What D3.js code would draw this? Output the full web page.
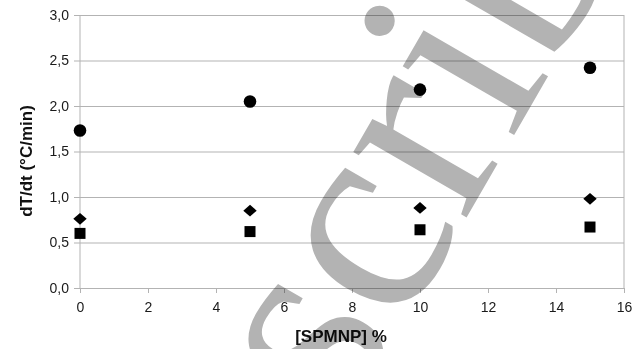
<!DOCTYPE html>
<html>
<head>
<meta charset="utf-8">
<script src="https://cdn.jsdelivr.net/npm/d3@7"></script>
<style>
  body { margin: 0; background: #fff; }
  svg { display: block; font-family: "Liberation Sans", Arial, sans-serif; }
</style>
</head>
<body>
<svg id="chart" width="641" height="349"></svg>
<script>
// values
const xValues = [0, 5, 10, 15];
const circleSeries = [1.73, 2.05, 2.18, 2.42];
const diamondSeries = [0.76, 0.85, 0.88, 0.98];
const squareSeries = [0.60, 0.62, 0.64, 0.67];
const xTicks = [0, 2, 4, 6, 8, 10, 12, 14, 16];
const yTicks = [0, 0.5, 1, 1.5, 2, 2.5, 3];

const width = 641, height = 349;
const margin = { top: 15, right: 17, bottom: 61, left: 80 };
const innerW = width - margin.left - margin.right;
const innerH = height - margin.top - margin.bottom;

const svg = d3.select("#chart");
const g = svg.append("g").attr("transform", `translate(${margin.left},${margin.top})`);

const x = d3.scaleLinear().domain([0, 16]).range([0, innerW]);
const y = d3.scaleLinear().domain([0, 3]).range([innerH, 0]);
const fmt = d => d3.format(".1f")(d).replace(".", ",");

// horizontal grid
g.append("g")
  .call(d3.axisLeft(y).tickValues(yTicks).tickSize(-innerW).tickFormat(""))
  .call(a => a.select(".domain").remove())
  .selectAll("line").attr("stroke", "#b3b3b3").attr("x1", -6);

// y axis labels
g.append("g")
  .call(d3.axisLeft(y).tickValues(yTicks).tickSize(0).tickPadding(11).tickFormat(fmt))
  .call(a => a.select(".domain").remove())
  .selectAll("text").attr("font-size", 14).attr("fill", "#1a1a1a")
  .attr("font-family", "Liberation Sans, Arial, sans-serif");

// x axis
g.append("g")
  .attr("transform", `translate(0,${innerH})`)
  .call(d3.axisBottom(x).tickValues(xTicks).tickSize(5).tickPadding(9).tickFormat(d3.format("d")))
  .call(a => a.select(".domain").remove())
  .call(a => a.selectAll("line").attr("stroke", "#b3b3b3"))
  .selectAll("text").attr("font-size", 14).attr("fill", "#1a1a1a")
  .attr("font-family", "Liberation Sans, Arial, sans-serif");

// left and right frame lines
g.append("line").attr("x1", x(0)).attr("x2", x(0)).attr("y1", 0).attr("y2", innerH)
  .attr("stroke", "#b3b3b3");
g.append("line").attr("x1", x(16)).attr("x2", x(16)).attr("y1", 0).attr("y2", innerH)
  .attr("stroke", "#b3b3b3");

// markers
g.selectAll(".sq").data(xValues).enter().append("rect")
  .attr("x", (d, i) => x(d) - 5.5).attr("y", (d, i) => y(squareSeries[i]) - 5.5)
  .attr("width", 11).attr("height", 11).attr("fill", "#000");

const diamond = d3.symbol().type(d3.symbolDiamond2).size(115);
g.selectAll(".dm").data(xValues).enter().append("path")
  .attr("d", diamond)
  .attr("transform", (d, i) => `translate(${x(d)},${y(diamondSeries[i])}) scale(1,0.88)`)
  .attr("fill", "#000");

g.selectAll(".ci").data(xValues).enter().append("circle")
  .attr("cx", d => x(d)).attr("cy", (d, i) => y(circleSeries[i]))
  .attr("r", 6.3).attr("fill", "#000");

// axis titles
svg.append("text")
  .attr("x", 341).attr("y", 342)
  .attr("text-anchor", "middle").attr("font-size", 17).attr("font-weight", "bold")
  .attr("fill", "#111").text("[SPMNP] %");

svg.append("text")
  .attr("transform", "translate(32,161) rotate(-90)")
  .attr("text-anchor", "middle").attr("font-size", 17).attr("font-weight", "bold")
  .attr("fill", "#111").text("dT/dt (°C/min)");

// watermark
svg.append("text")
  .attr("transform", "translate(345,428) rotate(-60)")
  .attr("font-family", "Liberation Serif, serif")
  .attr("font-size", 285)
  .attr("fill", "#b3b3b3")
  .style("mix-blend-mode", "multiply")
  .text("scribd");
</script>
</body>
</html>
